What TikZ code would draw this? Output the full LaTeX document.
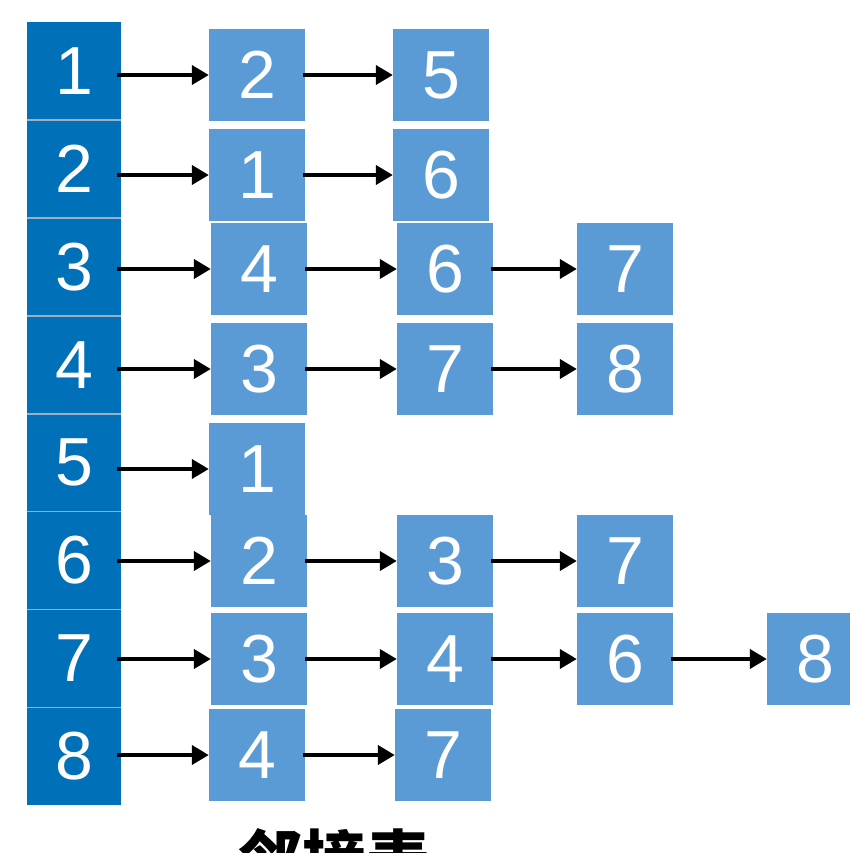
\documentclass[tikz,border=0pt]{standalone}
\usepackage{fontspec}
\setmainfont{Liberation Sans}
\newfontfamily\cjk{Noto Sans CJK SC}
\usetikzlibrary{arrows.meta}
\definecolor{darkblue}{HTML}{0070B8}
\definecolor{lightblue}{HTML}{5B9BD5}
\definecolor{divider}{HTML}{9AAFC0}
\tikzset{
  cell/.style={fill=darkblue, draw=none, minimum width=94pt, minimum height=97.9pt, inner sep=0pt, text=white, font=\fontsize{68}{68}\selectfont},
  lbox/.style={fill=lightblue, draw=none, minimum width=96pt, minimum height=92pt, inner sep=0pt, text=white, font=\fontsize{68}{68}\selectfont},
  link/.style={line width=4pt, -{Triangle[length=17pt,width=19pt]}},
  divline/.style={draw=divider, line width=1.5pt}
}
\begin{document}
\begin{tikzpicture}[x=1pt,y=-1pt]
\useasboundingbox[fill=white] (0,0) rectangle (850,853);
% left column
\foreach \i in {1,...,8}{
  \node[cell] (c\i) at (74,{22+97.9*(\i-0.5)}) {\i};
}
\foreach \i in {1,...,7}{
  \draw[divline] (c\i.south west) -- (c\i.south east);
}
% row 1
\node[lbox] (r1a) at (257,75) {2};
\node[lbox] (r1b) at (441,75) {5};
% row 2
\node[lbox] (r2a) at (257,175) {1};
\node[lbox] (r2b) at (441,175) {6};
% row 3
\node[lbox] (r3a) at (259,269) {4};
\node[lbox] (r3b) at (445,269) {6};
\node[lbox] (r3c) at (625,269) {7};
% row 4
\node[lbox] (r4a) at (259,369) {3};
\node[lbox] (r4b) at (445,369) {7};
\node[lbox] (r4c) at (625,369) {8};
% row 5
\node[lbox] (r5a) at (257,469) {1};
% row 6
\node[lbox] (r6a) at (259,561) {2};
\node[lbox] (r6b) at (445,561) {3};
\node[lbox] (r6c) at (625,561) {7};
% row 7
\node[lbox] (r7a) at (259,659) {3};
\node[lbox] (r7b) at (445,659) {4};
\node[lbox] (r7c) at (625,659) {6};
\node[lbox] (r7d) at (815,659) {8};
% row 8
\node[lbox] (r8a) at (257,755) {4};
\node[lbox] (r8b) at (443,755) {7};
% arrows from head cells
\foreach \i in {1,...,8}{
  \draw[link] ([xshift=-4pt]r\i a.west -| c\i.east) -- (r\i a.west);
}
% arrows between boxes
\draw[link] ([xshift=-2pt]r1a.east) -- (r1b.west);
\draw[link] ([xshift=-2pt]r2a.east) -- (r2b.west);
\draw[link] ([xshift=-2pt]r3a.east) -- (r3b.west);
\draw[link] ([xshift=-2pt]r3b.east) -- (r3c.west);
\draw[link] ([xshift=-2pt]r4a.east) -- (r4b.west);
\draw[link] ([xshift=-2pt]r4b.east) -- (r4c.west);
\draw[link] ([xshift=-2pt]r6a.east) -- (r6b.west);
\draw[link] ([xshift=-2pt]r6b.east) -- (r6c.west);
\draw[link] ([xshift=-2pt]r7a.east) -- (r7b.west);
\draw[link] ([xshift=-2pt]r7b.east) -- (r7c.west);
\draw[link] ([xshift=-2pt]r7c.east) -- (r7d.west);
\draw[link] ([xshift=-2pt]r8a.east) -- (r8b.west);
% caption (cut off at the bottom edge, as in the reference)
\node[anchor=base, inner sep=0pt, font=\cjk\bfseries\fontsize{64}{64}\selectfont] (cap) at (334,883) {邻接表};
\end{tikzpicture}
\end{document}
